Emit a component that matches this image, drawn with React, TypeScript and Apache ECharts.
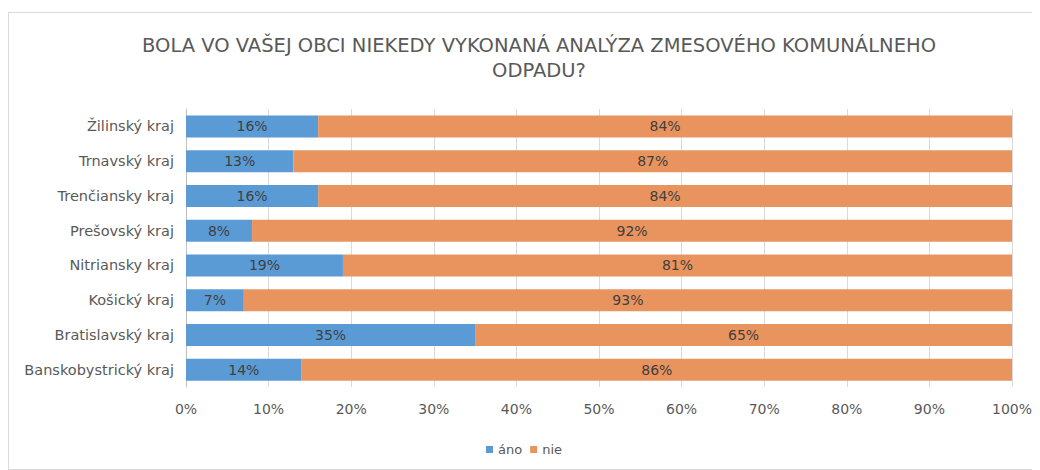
import React, { useEffect, useRef } from "react";
import * as echarts from "echarts";

const categories = [
  "Žilinský kraj",
  "Trnavský kraj",
  "Trenčiansky kraj",
  "Prešovský kraj",
  "Nitriansky kraj",
  "Košický kraj",
  "Bratislavský kraj",
  "Banskobystrický kraj",
];
const ano = [16, 13, 16, 8, 19, 7, 35, 14];
const nie = [84, 87, 84, 92, 81, 93, 65, 86];
const titleLines = [
  "BOLA VO VAŠEJ OBCI NIEKEDY VYKONANÁ ANALÝZA ZMESOVÉHO KOMUNÁLNEHO",
  "ODPADU?",
];

const FONT = "'DejaVu Sans', 'Open Sans', sans-serif";

export default function App() {
  const ref = useRef<HTMLDivElement>(null);
  useEffect(() => {
    if (!ref.current) return;
    const chart = echarts.init(ref.current, null, { renderer: "svg" });
    const label = {
      show: true,
      position: "inside",
      formatter: "{c}%",
      color: "#404040",
      fontSize: 14,
      fontFamily: FONT,
    };
    chart.setOption({
      animation: false,
      textStyle: { fontFamily: FONT },
      graphic: [
        {
          type: "text",
          x: 530,
          y: 44.5,
          style: {
            text: titleLines.join("\n"),
            textAlign: "center",
            textVerticalAlign: "middle",
            fontSize: 19.5,
            lineHeight: 25,
            fill: "#595959",
            fontFamily: FONT,
          },
        },
      ],
      legend: {
        top: 425,
        left: "center",
        itemWidth: 7,
        itemHeight: 7,
        itemGap: 8,
        icon: "rect",
        textStyle: { color: "#595959", fontSize: 13, fontFamily: FONT },
        data: ["áno", "nie"],
      },
      grid: { left: 177, right: 27, top: 96, bottom: 82, containLabel: false },
      xAxis: {
        type: "value",
        min: 0,
        max: 100,
        interval: 10,
        axisLabel: {
          formatter: "{value}%",
          color: "#595959",
          fontSize: 14,
          margin: 15,
          fontFamily: FONT,
        },
        axisLine: { show: false },
        axisTick: { show: false },
        splitLine: { show: true, lineStyle: { color: "#d9d9d9", width: 1 } },
      },
      yAxis: {
        type: "category",
        inverse: true,
        data: categories,
        axisLabel: { color: "#595959", fontSize: 14.5, margin: 12, fontFamily: FONT },
        axisLine: { show: true, lineStyle: { color: "#bfbfbf" } },
        axisTick: { show: false },
      },
      series: [
        {
          name: "áno",
          type: "bar",
          stack: "s",
          data: ano,
          barWidth: 22,
          itemStyle: { color: "#5b9bd5" },
          label,
        },
        {
          name: "nie",
          type: "bar",
          stack: "s",
          data: nie,
          barWidth: 22,
          itemStyle: { color: "#e9935e" },
          label,
        },
      ],
    });
    return () => chart.dispose();
  }, []);
  return (
    <div
      style={{
        marginTop: 4,
        width: 1030,
        height: 456,
        border: "1px solid #d9d9d9",
        borderRight: "none",
        background: "#fff",
      }}
    >
      <div ref={ref} style={{ width: 1030, height: 456 }} />
    </div>
  );
}
